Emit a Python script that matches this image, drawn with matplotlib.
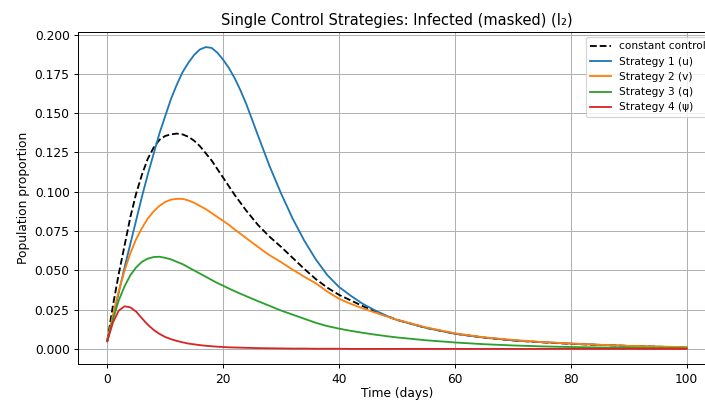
import matplotlib
matplotlib.use("Agg")
import matplotlib.pyplot as plt

# time points (days)
t = [0, 1, 2, 3, 4, 5, 6, 7, 8, 9, 10, 11, 12, 13, 14, 15, 16, 17, 18, 19, 20,
     21, 22, 23, 24, 26, 28, 30, 32, 34, 36, 38, 40, 42, 44, 46, 48, 50,
     55, 60, 65, 70, 75, 80, 85, 90, 95, 100]

constant = [0.005, 0.028, 0.048, 0.066, 0.084, 0.099, 0.111, 0.121, 0.128, 0.133, 0.1355,
            0.1365, 0.137, 0.1365, 0.135, 0.1325, 0.129, 0.1245, 0.120, 0.1145, 0.109,
            0.1035, 0.098, 0.093, 0.088, 0.079, 0.0715, 0.065, 0.058, 0.051, 0.0445,
            0.039, 0.0345, 0.031, 0.0275, 0.0243, 0.0213, 0.0186,
            0.0135, 0.0098, 0.0073, 0.0055, 0.0043, 0.0033, 0.0026, 0.002, 0.0015, 0.001]
strat_u = [0.005, 0.020, 0.036, 0.052, 0.067, 0.082, 0.097, 0.111, 0.124, 0.137, 0.148,
           0.159, 0.168, 0.176, 0.182, 0.187, 0.1905, 0.192, 0.1915, 0.1885, 0.184,
           0.1787, 0.1722, 0.1645, 0.1558, 0.136, 0.1165, 0.099, 0.083, 0.069, 0.057,
           0.047, 0.0395, 0.034, 0.029, 0.025, 0.0215, 0.0185,
           0.0135, 0.0097, 0.0073, 0.0055, 0.0044, 0.0035, 0.0027, 0.002, 0.0015, 0.001]
strat_v = [0.005, 0.022, 0.037, 0.050, 0.061, 0.070, 0.077, 0.083, 0.0875, 0.091, 0.0935,
           0.095, 0.0955, 0.0955, 0.0945, 0.093, 0.091, 0.089, 0.0865, 0.084, 0.0815,
           0.079, 0.076, 0.0733, 0.0705, 0.065, 0.0597, 0.0553, 0.0505, 0.046, 0.0418,
           0.0365, 0.032, 0.0288, 0.026, 0.0235, 0.021, 0.0187,
           0.0138, 0.0100, 0.0075, 0.0058, 0.0045, 0.0035, 0.0027, 0.002, 0.0016, 0.0012]
strat_q = [0.005, 0.019, 0.031, 0.040, 0.047, 0.052, 0.0555, 0.0575, 0.0585, 0.0587, 0.058,
           0.057, 0.0555, 0.054, 0.052, 0.050, 0.048, 0.046, 0.044, 0.042, 0.0403,
           0.0385, 0.0368, 0.0352, 0.0336, 0.0305, 0.0275, 0.0245, 0.0219, 0.0193, 0.0167,
           0.0146, 0.013, 0.0116, 0.0104, 0.0093, 0.0083, 0.0074,
           0.0056, 0.0042, 0.0031, 0.0023, 0.0017, 0.0013, 0.001, 0.0008, 0.0006, 0.0005]
strat_psi = [0.005, 0.017, 0.0245, 0.0272, 0.0265, 0.0238, 0.0195, 0.0155, 0.0122, 0.0097,
             0.0077, 0.0063, 0.0052, 0.0043, 0.0035, 0.003, 0.0025, 0.0021, 0.0018, 0.0015,
             0.0013, 0.0011, 0.001, 0.0009, 0.0008, 0.0006, 0.0005, 0.0004, 0.0003, 0.0003,
             0.0002, 0.0002, 0.0002, 0.0001, 0.0001, 0.0001, 0.0001, 0.0001,
             0.0001, 0.0001, 0.0001, 0.0001, 0.0001, 0.0001, 0.0001, 0.0001, 0.0001, 0.0001]

labels = ["Strategy 1 (u)", "Strategy 2 (v)", "Strategy 3 (q)", "Strategy 4 (ψ)"]
series = [strat_u, strat_v, strat_q, strat_psi]

fig = plt.figure(figsize=(705 / 88, 400 / 88), dpi=88)
# the reference is cropped on the right, so the axes run past the figure edge
ax = fig.add_axes([0.111, 0.09, 0.904, 0.83])

ax.plot(t, constant, "k--", label="constant control")
for vals, lab in zip(series, labels):
    ax.plot(t, vals, label=lab)

ax.set_title("Single Control Strategies: Infected (masked) (I₂)")
ax.set_xlabel("Time (days)", labelpad=1)
ax.set_ylabel("Population proportion")
ax.grid(True)
ax.legend(loc="upper right", fontsize=8.6)

fig.savefig("out.png", dpi=88)
